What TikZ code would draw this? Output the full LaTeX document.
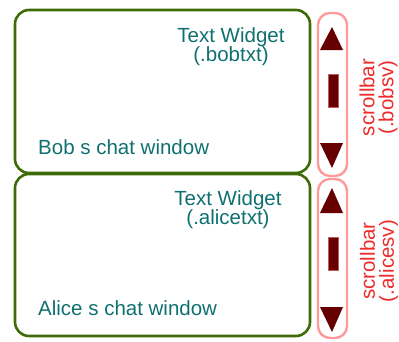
\documentclass[tikz,border=0pt]{standalone}
\usepackage{fontspec}
\setmainfont{Liberation Sans}
\definecolor{winframe}{HTML}{3E6B08}
\definecolor{wintext}{HTML}{107070}
\definecolor{sbframe}{HTML}{FF9A9A}
\definecolor{sbfill}{HTML}{660000}
\definecolor{sblabel}{HTML}{EE2A2A}
\begin{document}
\begin{tikzpicture}[x=1pt,y=-1pt,
  chatbox/.style={draw=winframe,line width=2.6pt,rounded corners=14pt,
    inner sep=0pt,outer sep=0pt},
  sbbox/.style={draw=sbframe,line width=2.4pt,rounded corners=12pt,
    inner sep=0pt,outer sep=0pt},
  sbpart/.style={fill=sbfill,draw=sbframe!60!sbfill,line width=0.3pt},
  wlabel/.style={text=wintext,inner sep=0pt,
    font=\fontsize{20.5}{19.5}\selectfont},
  widgetlabel/.style={wlabel,align=center},
  sblabeltext/.style={text=sblabel,inner sep=0pt,rotate=90,align=center,
    font=\fontsize{20.5}{19}\selectfont}]
\useasboundingbox (0,0) rectangle (399,341);

% chat windows
\node[chatbox,minimum width=295pt,minimum height=163pt] (bobwin) at (162.5,91.5) {};
\node[chatbox,minimum width=295pt,minimum height=162pt] (alicewin) at (162.5,255) {};

% scroll bar frames
\node[sbbox,minimum width=29pt,minimum height=163pt] (bobsb) at (332.5,94.5) {};
\node[sbbox,minimum width=29pt,minimum height=159pt] (alicesb) at (332.5,258.5) {};

% labels inside the windows
\node[widgetlabel] (bobtxt) at (231,46.8) {Text Widget\\(.bobtxt)};
\node[widgetlabel] (alicetxt) at (228,209.6) {Text Widget\\(.alicetxt)};
\node[wlabel,anchor=base west] (bobname) at (38,154) {Bob s chat window};
\node[wlabel,anchor=base west] (alicename) at (38,315) {Alice s chat window};

% scroll bar labels
\node[sblabeltext] (bobsvlabel) at (378.5,97.5) {scrollbar\\(.bobsv)};
\node[sblabeltext] (alicesvlabel) at (379,261) {scrollbar\\(.alicesv)};

% arrows and sliders of the bob scroll bar
\fill[sbfill] (320,50) -- (343,50) -- (332,27) -- cycle;
\filldraw[sbpart] (328,74) rectangle (338,107);
\fill[sbfill] (320,143) -- (343,143) -- (332,168) -- cycle;

% arrows and sliders of the alice scroll bar
\fill[sbfill] (320,213) -- (343,213) -- (332,188) -- cycle;
\filldraw[sbpart] (328,237) rectangle (338,270);
\fill[sbfill] (320,307) -- (343,307) -- (332,332) -- cycle;
\end{tikzpicture}
\end{document}
